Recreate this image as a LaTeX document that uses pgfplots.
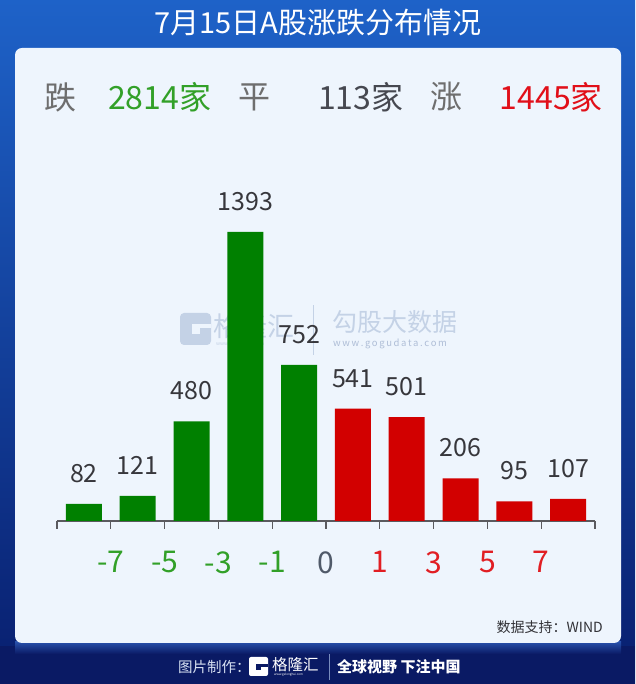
\documentclass[border=0pt]{standalone}
\usepackage{fontspec}
\setmainfont{Noto Sans CJK SC}
\usepackage{pgfplots}
\pgfplotsset{compat=1.18}
\definecolor{bargreen}{RGB}{0,128,0}
\definecolor{barred}{RGB}{210,0,0}
\definecolor{lblgreen}{RGB}{50,160,40}
\definecolor{lblred}{RGB}{225,30,35}
\definecolor{lblgray}{RGB}{80,90,105}
\definecolor{hdrgray}{RGB}{110,110,110}
\definecolor{hdrdark}{RGB}{70,72,80}
\definecolor{hdrred}{RGB}{225,15,25}
\definecolor{panel}{RGB}{238,245,253}
\definecolor{wm}{RGB}{196,210,230}
\definecolor{wmtext}{RGB}{175,190,215}
\definecolor{navy}{RGB}{10,26,100}
\definecolor{bgtop}{RGB}{30,98,200}
\definecolor{bgbot}{RGB}{8,30,110}
\definecolor{glow}{RGB}{40,80,170}
\definecolor{srcgray}{RGB}{50,50,55}
\definecolor{foottext}{RGB}{215,225,242}
\definecolor{footdiv}{RGB}{120,140,190}
\definecolor{axisgray}{RGB}{90,90,95}
\definecolor{valgray}{RGB}{55,55,60}
\begin{document}
\begin{tikzpicture}[x=1pt,y=1pt]
% background
\shade[top color=bgtop, bottom color=bgbot] (0,0) rectangle (635,684);
\fill[navy] (0,0) rectangle (635,38);
\shade[top color=glow, bottom color=navy] (15,30) rectangle (621,42);
% panel
\fill[panel, rounded corners=7pt] (15,41) rectangle (621,636);
% title
\node[text=white, font=\fontsize{29}{32}\selectfont] at (318,661) {7月15日A股涨跌分布情况};
% header
\node[text=hdrgray, font=\fontsize{32}{36}\selectfont] at (60,587) {跌};
\node[text=lblgreen, font=\fontsize{32}{36}\selectfont, anchor=west, inner sep=0pt] at (108,587) {2814家};
\node[text=hdrgray, font=\fontsize{32}{36}\selectfont] at (254,587) {平};
\node[text=hdrdark, font=\fontsize{32}{36}\selectfont, anchor=west, inner sep=0pt] at (318,587) {113家};
\node[text=hdrgray, font=\fontsize{32}{36}\selectfont] at (446,587) {涨};
\node[text=hdrred, font=\fontsize{32}{36}\selectfont, anchor=east, inner sep=0pt] at (603,587) {1445家};
% watermark
\fill[wm, rounded corners=4pt] (180,339) rectangle (211,371);
\fill[panel] (192,350) rectangle (211,360);
\fill[wm] (200,345) rectangle (211,356);
\node[text=wm, font=\fontsize{27}{30}\selectfont, anchor=west, inner sep=0pt] at (213,358) {格隆汇};
\node[text=wm, font=\fontsize{5}{6}\selectfont, anchor=west, inner sep=0pt] at (216,340) {www.gelonghui.com};
\draw[draw=wm, line width=1pt] (313,329) -- (313,379);
\node[text=wm, font=\fontsize{25}{28}\selectfont, anchor=west, inner sep=0pt] at (332,362) {勾股大数据};
\node[text=wmtext, font=\fontsize{9.5}{11}\selectfont, anchor=west, inner sep=0pt] at (333,340) {w\,w\,w\,.\,g\,o\,g\,u\,d\,a\,t\,a\,.\,c\,o\,m};
% source
\node[text=srcgray, font=\fontsize{14}{16}\selectfont, anchor=east, inner sep=0pt] at (603,57) {数据支持：WIND};
% footer
\node[text=foottext, font=\fontsize{14.5}{16}\selectfont, anchor=west, inner sep=0pt] at (178,17) {图片制作：};
\fill[white, rounded corners=2pt] (249,8) rectangle (268,27);
\fill[navy] (256,14) rectangle (268,20);
\fill[white] (261,11) rectangle (268,17);
\node[text=white, font=\fontsize{15.5}{17}\selectfont, anchor=west, inner sep=0pt] at (272,19) {格隆汇};
\node[text=white, font=\fontsize{3}{4}\selectfont, anchor=west, inner sep=0pt] at (274,9) {www.gelonghui.com};
\draw[draw=footdiv, line width=0.8pt] (329,4) -- (329,30);
\node[text=white, font=\bfseries\fontsize{15}{17}\selectfont, anchor=west, inner sep=0pt] at (337,17) {全球视野 下注中国};
% chart
\begin{axis}[
  at={(57pt,163pt)}, anchor=south west,
  scale only axis, width=538pt, height=332pt,
  xmin=-0.5, xmax=9.5, ymin=0, ymax=1600,
  clip=false,
  axis x line=bottom, axis y line=none,
  axis line style={-, draw=axisgray, line width=1.4pt},
  xtick={-0.5,0.5,...,9.5},
  xticklabels={{},\textcolor{lblgreen}{-7},\textcolor{lblgreen}{-5},\textcolor{lblgreen}{-3},\textcolor{lblgreen}{-1},\textcolor{lblgray}{0},\textcolor{lblred}{1},\textcolor{lblred}{3},\textcolor{lblred}{5},\textcolor{lblred}{7},{}},
  xticklabel style={font=\fontsize{30}{34}\selectfont, yshift=-19pt},
  tick align=outside, major tick length=8pt,
  tick style={draw=axisgray, line width=1.2pt},
  ybar, bar width=36pt, bar shift=0pt,
  /pgf/number format/assume math mode=true,
  /pgf/number format/1000 sep={},
  nodes near coords,
  every node near coord/.append style={font=\fontsize{25}{28}\selectfont, text=valgray, inner sep=0pt, anchor=south, yshift=21pt},
]
\addplot[fill=bargreen, draw=none] coordinates {(0,82) (1,121) (2,480) (3,1393) (4,752)};
\addplot[fill=barred, draw=none] coordinates {(5,541) (6,501) (7,206) (8,95) (9,107)};
\end{axis}
\end{tikzpicture}
\end{document}
